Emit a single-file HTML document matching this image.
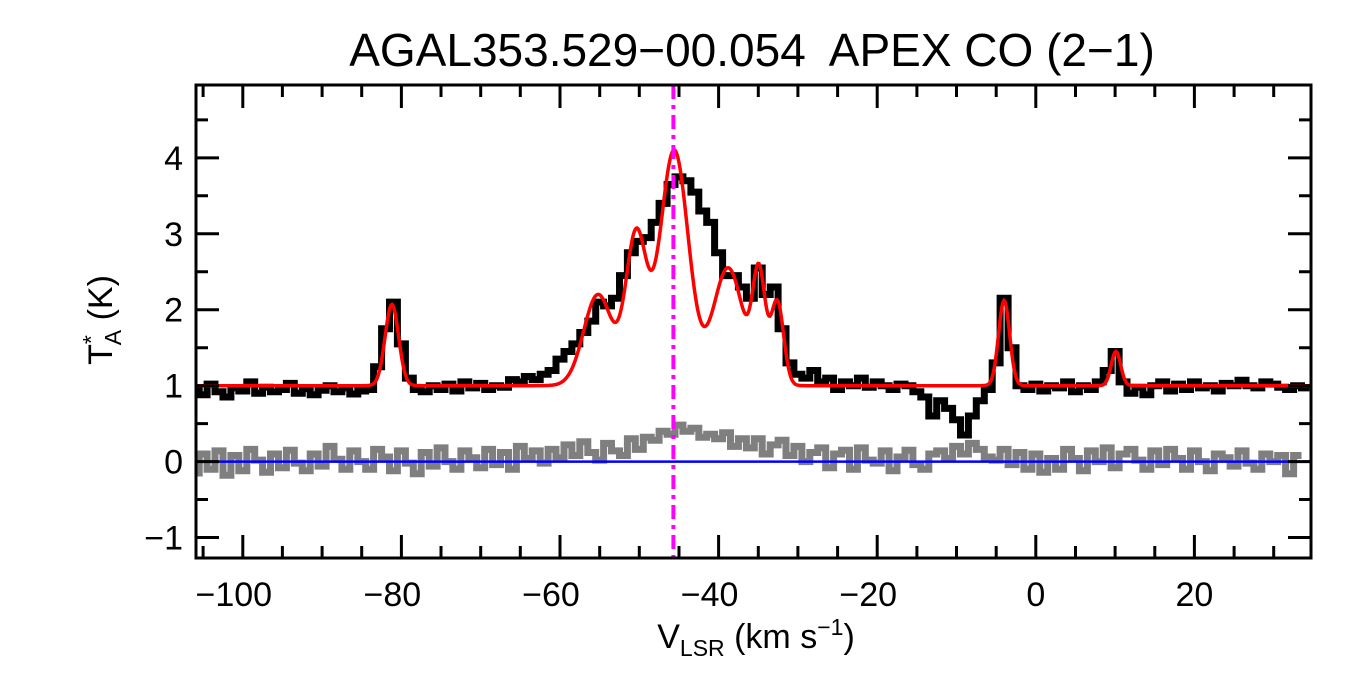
<!DOCTYPE html>
<html><head><meta charset="utf-8"><style>
html,body{margin:0;padding:0;background:#fff;}
svg{display:block;font-family:"Liberation Sans",Arial,sans-serif;}
</style></head><body>
<svg id="chart" width="1350" height="675" viewBox="0 0 1350 675">
<text x="752" y="66" font-size="46" text-anchor="middle" style="white-space:pre">AGAL353.529−00.054  APEX CO (2−1)</text>
<g id="plot"></g>
<text x="756" y="648" font-size="34" text-anchor="middle">V<tspan font-size="23" dy="8">LSR</tspan><tspan dy="-8"> (km s</tspan><tspan font-size="23" dy="-13">−1</tspan><tspan dy="13">)</tspan></text>
<text transform="translate(112,320) rotate(-90)" font-size="34" text-anchor="middle">T<tspan font-size="23" dy="-13">*</tspan><tspan font-size="23" dx="-10" dy="22">A</tspan><tspan dy="-9"> (K)</tspan></text>
</svg>
<script>
const vStart = -106;
const vStep = 1;
const observed = [0.95,0.88,1.02,0.92,0.85,0.97,0.93,1.05,0.9,0.98,0.92,0.95,1.03,0.9,0.96,0.88,0.94,1.0,0.92,0.97,0.89,0.93,0.95,
1.25,1.75,2.1,1.55,1.1,0.95,0.92,1.0,0.95,1.02,0.93,1.05,0.97,1.03,0.95,1.0,0.98,1.08,1.05,1.12,1.08,1.15,1.2,1.35,1.45,1.55,1.7,1.85,2.1,2.05,2.15,2.45,2.75,2.9,2.95,3.15,3.4,3.65,3.75,3.7,3.55,3.3,3.15,2.75,2.45,2.45,2.3,2.15,2.55,2.2,2.3,1.75,1.3,1.15,1.1,1.2,1.05,1.1,0.95,1.05,1.0,1.1,0.98,1.05,1.0,0.95,1.02,1.0,0.92,0.85,0.6,0.8,0.7,0.55,0.35,0.6,0.8,0.95,1.3,2.15,1.5,1.0,0.95,1.02,0.93,1.0,0.97,1.05,0.92,1.0,0.95,1.05,1.2,1.45,1.05,0.9,0.98,0.88,1.0,1.05,0.93,1.02,0.95,1.05,0.97,1.0,0.93,1.03,1.0,1.07,1.0,0.97,1.05,1.02,0.98,0.95,1.0,0.97];
const residual = [-0.15,0.1,-0.1,0.14,-0.18,0.08,-0.12,0.16,0.02,-0.14,0.1,-0.08,0.15,-0.02,-0.12,0.1,-0.06,0.2,0.03,-0.1,0.14,0.0,-0.1,
0.16,0.06,-0.12,0.14,-0.02,-0.16,0.12,-0.06,0.18,0.0,-0.1,0.14,0.05,-0.08,0.16,-0.04,0.12,-0.1,0.2,0.04,0.14,-0.02,0.16,0.05,0.22,0.08,0.26,0.12,0.02,0.24,0.14,0.08,0.3,0.16,0.32,0.28,0.4,0.36,0.48,0.4,0.44,0.32,0.36,0.3,0.38,0.2,0.3,0.18,0.3,0.1,0.22,0.28,0.08,0.2,0.0,0.12,0.18,-0.08,0.1,0.15,-0.1,0.18,0.02,-0.02,0.14,-0.12,0.06,0.15,-0.04,-0.1,0.1,0.14,0.04,0.2,0.1,0.24,0.16,0.06,0.02,0.16,-0.04,0.12,-0.1,0.1,-0.14,0.04,-0.1,0.16,0.04,-0.12,0.14,0.0,0.18,-0.08,0.1,0.16,0.02,-0.1,0.14,-0.04,0.16,0.04,-0.1,0.14,0.0,-0.12,0.1,0.05,-0.06,0.14,-0.02,-0.1,0.1,0.0,0.08,-0.16,0.08];
const fitBaseline = 1.0;
const fitCenters = [-81.2,-55.2,-50.4,-45.6,-38.8,-34.9,-32.6,-4.0,10.1];
const fitAmps = [1.07,1.2,1.95,3.1,1.55,1.4,1.1,1.12,0.45];
const fitSigmas = [0.85,1.8,1.3,1.8,1.9,0.8,0.8,0.7,0.6];
const markerVelocity = -45.7;
const xTicks = [-100,-80,-60,-40,-20,0,20];
const yTicks = [-1,0,1,2,3,4];

const L=196,R=1311,T=85,B=558;
const xMin=-105.9,xMax=34.7,yMin=-1.27,yMax=4.96;
const X=v=>L+(v-xMin)/(xMax-xMin)*(R-L);
const Y=t=>B-(t-yMin)/(yMax-yMin)*(B-T);
const NS="http://www.w3.org/2000/svg";
const plot=document.getElementById('plot');
function mk(tag,attrs){const e=document.createElementNS(NS,tag);for(const k in attrs)e.setAttribute(k,attrs[k]);plot.appendChild(e);return e;}
const clip=mk('clipPath',{id:'pc'});
const cr=document.createElementNS(NS,'rect');
cr.setAttribute('x',L);cr.setAttribute('y',T);cr.setAttribute('width',R-L);cr.setAttribute('height',B-T);
clip.appendChild(cr);

function stepPath(arr){
  let d='';
  arr.forEach((t,i)=>{const v=vStart+i*vStep;const x0=X(v-vStep/2),x1=X(v+vStep/2),y=Y(t);
    d+=(i===0?'M':'L')+x0.toFixed(1)+','+y.toFixed(1)+'L'+x1.toFixed(1)+','+y.toFixed(1);});
  return d;
}
const g=mk('g',{'clip-path':'url(#pc)'});
function add(parent,tag,attrs){const e=document.createElementNS(NS,tag);for(const k in attrs)e.setAttribute(k,attrs[k]);parent.appendChild(e);return e;}
const res=add(g,'path',{d:stepPath(residual),fill:'none',stroke:'#7f7f7f','stroke-width':7});


const zl=add(g,'line',{x1:L,x2:R,y1:Y(0),y2:Y(0),stroke:'#0000ff','stroke-width':2.5});


const obs=add(g,'path',{d:stepPath(observed),fill:'none',stroke:'#000','stroke-width':7});


let fd='';
for(let px=L;px<=R;px+=1){const v=xMin+(px-L)/(R-L)*(xMax-xMin);let t=fitBaseline;
  for(let k=0;k<fitCenters.length;k++){t+=fitAmps[k]*Math.exp(-0.5*Math.pow((v-fitCenters[k])/fitSigmas[k],2));}
  fd+=(px===L?'M':'L')+px+','+Y(t).toFixed(1);}
const fit=add(g,'path',{d:fd,fill:'none',stroke:'#ff0000','stroke-width':3.5});


const mv=add(g,'line',{x1:X(markerVelocity),x2:X(markerVelocity),y1:T,y2:B,stroke:'#ff00ff','stroke-width':4,'stroke-dasharray':'14,6,4,6'});



const frame=mk('rect',{x:L,y:T,width:R-L,height:B-T,fill:'none',stroke:'#000','stroke-width':3});


let td='';
for(let v=-105;v<=34;v+=5){const x=X(v);const len=(v%20===0)?23:12;td+=`M${x.toFixed(1)},${B}v${-len}M${x.toFixed(1)},${T}v${len}`;}
for(let t=-1;t<=4.6;t+=0.5){const y=Y(t);const len=(Math.abs(t%1)<1e-6)?23:12;td+=`M${L},${y.toFixed(1)}h${len}M${R},${y.toFixed(1)}h${-len}`;}
const ticks=mk('path',{d:td,stroke:'#000','stroke-width':3,fill:'none'});


xTicks.forEach(v=>{const t=mk('text',{x:X(v)-(v<0?9:0),y:606,'font-size':34,'text-anchor':'middle'});t.textContent=(v<0?'−':'')+Math.abs(v);
  
  });
yTicks.forEach(v=>{const t=mk('text',{x:183,y:Y(v)+12,'font-size':34,'text-anchor':'end'});t.textContent=(v<0?'−':'')+Math.abs(v);
  
  });
</script>
</body></html>
